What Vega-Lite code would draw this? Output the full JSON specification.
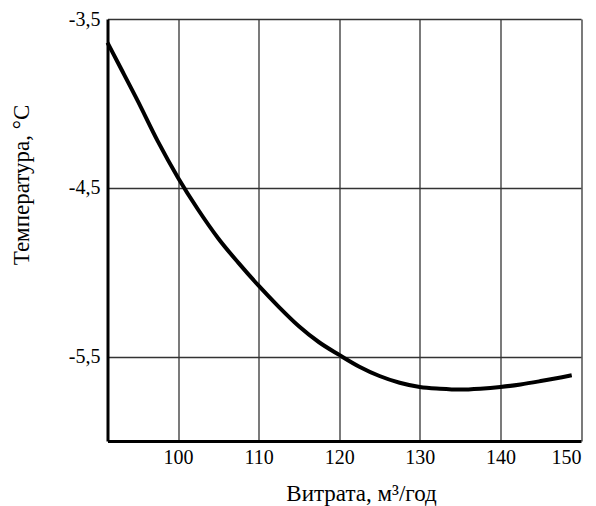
{
  "$schema": "https://vega.github.io/schema/vega-lite/v6.json",
  "autosize": "none",
  "padding": {"left": 107.5, "top": 19, "right": 15, "bottom": 65},
  "width": 473.5,
  "height": 422,
  "background": "white",
  "config": {
    "view": {"stroke": null},
    "font": "Liberation Serif"
  },
  "data": {
    "values": [
      {"x": 91.25, "y": -3.64},
      {"x": 92.5, "y": -3.755},
      {"x": 95, "y": -3.985},
      {"x": 97.5, "y": -4.225},
      {"x": 100, "y": -4.44},
      {"x": 102.5, "y": -4.63},
      {"x": 105, "y": -4.8},
      {"x": 107.5, "y": -4.945},
      {"x": 110, "y": -5.08},
      {"x": 112.5, "y": -5.205},
      {"x": 115, "y": -5.32},
      {"x": 117.5, "y": -5.415},
      {"x": 120, "y": -5.49},
      {"x": 122.5, "y": -5.56},
      {"x": 125, "y": -5.615},
      {"x": 127.5, "y": -5.655},
      {"x": 130, "y": -5.68},
      {"x": 132.5, "y": -5.69},
      {"x": 135, "y": -5.695},
      {"x": 137.5, "y": -5.69},
      {"x": 140, "y": -5.68},
      {"x": 142.5, "y": -5.665},
      {"x": 145, "y": -5.645},
      {"x": 148.85, "y": -5.61}
    ]
  },
  "mark": {"type": "line", "color": "black", "strokeWidth": 4, "interpolate": "monotone"},
  "encoding": {
    "x": {
      "field": "x",
      "type": "quantitative",
      "scale": {"domain": [91.25, 150], "nice": false, "zero": false},
      "axis": {
        "values": [100, 110, 120, 130, 140, 150],
        "title": "Витрата, м³/год",
        "titleFont": "Liberation Serif",
        "titleFontSize": 23,
        "titleFontWeight": "normal",
        "titleColor": "black",
        "titleX": 253.5,
        "titleY": 59,
        "titleAlign": "center",
        "titleBaseline": "alphabetic",
        "labelFont": "Liberation Serif",
        "labelFontSize": 20,
        "labelColor": "black",
        "labelPadding": 6,
        "labelFlush": true,
        "ticks": false,
        "tickSize": 0,
        "domainColor": "black",
        "domainWidth": 3,
        "grid": true,
        "gridColor": "#333333",
        "gridWidth": 1.3,
        "gridOpacity": 1
      }
    },
    "y": {
      "field": "y",
      "type": "quantitative",
      "scale": {"domain": [-6, -3.5], "nice": false, "zero": false},
      "axis": {
        "values": [-3.5, -4.5, -5.5],
        "labelExpr": "replace(replace(format(datum.value, '.1f'), '.', ','), '\u2212', '-')",
        "title": "Температура, °С",
        "titleFont": "Liberation Serif",
        "titleFontSize": 23,
        "titleFontWeight": "normal",
        "titleColor": "black",
        "titleAngle": -90,
        "titleX": -79.5,
        "titleY": 165.5,
        "titleAlign": "center",
        "titleBaseline": "alphabetic",
        "labelFont": "Liberation Serif",
        "labelFontSize": 20,
        "labelColor": "black",
        "labelPadding": 7.5,
        "ticks": false,
        "tickSize": 0,
        "domainColor": "black",
        "domainWidth": 3,
        "grid": true,
        "gridColor": "#333333",
        "gridWidth": 1.3,
        "gridOpacity": 1
      }
    }
  }
}
